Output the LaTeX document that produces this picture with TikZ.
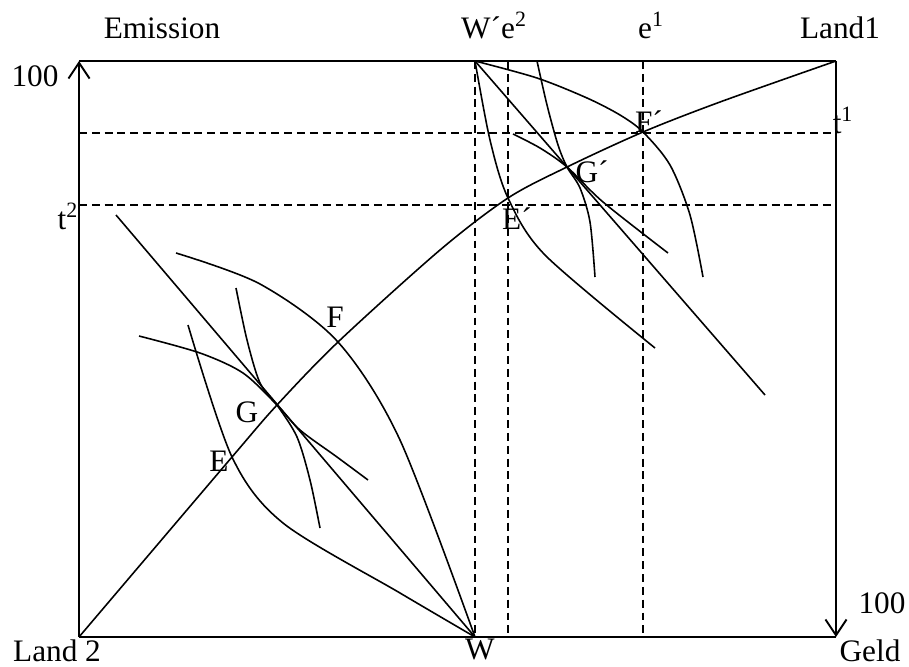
\documentclass[tikz,border=0pt]{standalone}
\usepackage{fontspec}
\setmainfont{Liberation Serif}
\usetikzlibrary{arrows.meta}

\begin{document}
\begin{tikzpicture}[x=0.02cm, y=-0.02cm, >={Straight Barb[length=9pt, width=12pt]},
    box/.style={line width=1.1pt},
    kurve/.style={line width=0.9pt},
    hilfslinie/.style={line width=0.9pt, dash pattern=on 4.5pt off 2.8pt},
    lbl/.style={anchor=base, inner sep=0pt, font=\fontsize{17.8}{20}\selectfont}]
    \useasboundingbox (0,0) rectangle (909,666);
    % Ecken der Box
    \coordinate (L2) at (79,637);
    \coordinate (L1) at (836,61);
    \coordinate (LO) at (79,61);
    \coordinate (RU) at (836,637);
    \coordinate (W) at (475,637);
    \coordinate (Ws) at (475,61);
    % Hilfslinien
    \draw[hilfslinie] (Ws) -- (W);
    \draw[hilfslinie] (508,61) -- (508,637);
    \draw[hilfslinie] (643,61) -- (643,637);
    \draw[hilfslinie] (79,133) -- (836,133);
    \draw[hilfslinie] (79,205) -- (836,205);
    % Box
    \draw[box, ->] (L2) -- (LO);
    \draw[box] (LO) -- (L1);
    \draw[box, ->] (L1) -- (RU);
    \draw[box] (L2) -- (RU);
    % Kontraktkurve
    \draw[kurve] plot[smooth] coordinates {(79,637) (232,457) (277,405) (338,342) (440,250) (508,198) (567,167) (643,132) (720,102) (836,61)};
    % Land 2 (unten links)
    \draw[kurve] (116,215) -- (W);
    \draw[kurve] plot[smooth] coordinates {(176,253) (260,284) (338,342) (400,440) (475,637)};
    \draw[kurve] plot[smooth] coordinates {(188,325) (232,457) (283,523) (400,593) (475,637)};
    \draw[kurve] plot[smooth] coordinates {(139,336) (200,353) (243,373) (277,405) (300,430) (337,457) (368,480)};
    \draw[kurve] plot[smooth] coordinates {(236,288) (247,340) (260,383) (277,405) (297,437) (310,480) (320,528)};
    % Land 1 (oben rechts)
    \draw[kurve] (Ws) -- (765,395);
    \draw[kurve] plot[smooth] coordinates {(Ws) (537,78) (587,98) (620,115) (643,132) (670,165) (690,215) (703,277)};
    \draw[kurve] plot[smooth] coordinates {(Ws) (490,140) (508,198) (545,255) (655,348)};
    \draw[kurve] plot[smooth] coordinates {(537,61) (547,105) (558,145) (567,167) (580,188) (590,222) (595,277)};
    \draw[kurve] plot[smooth] coordinates {(513,134) (540,148) (567,167) (603,202) (668,253)};
    % Beschriftung
    \node[lbl] (emission) at (162,38) {Emission};
    \node[lbl] (hundertL) at (35,86) {100};
    \node[lbl] (t2) at (68,229) {t\textsuperscript{2}};
    \node[lbl] (we2) at (494,38) {W´e\textsuperscript{2}};
    \node[lbl] (e1) at (651,38) {e\textsuperscript{1}};
    \node[lbl] (land1) at (840,38) {Land1};
    \node[lbl] (t1) at (843,133) {t\textsuperscript{1}};
    \node[lbl] (Fs) at (649,132) {F´};
    \node[lbl] (Gs) at (592,182) {G´};
    \node[lbl] (Es) at (517,229) {E´};
    \node[lbl] (F) at (335,327) {F};
    \node[lbl] (G) at (247,422) {G};
    \node[lbl] (E) at (219,471) {E};
    \node[lbl] (Wlbl) at (480,659) {W};
    \node[lbl] (land2) at (57,661) {Land 2};
    \node[lbl] (geld) at (870,661) {Geld};
    \node[lbl] (hundertR) at (882,613) {100};
\end{tikzpicture}
\end{document}
